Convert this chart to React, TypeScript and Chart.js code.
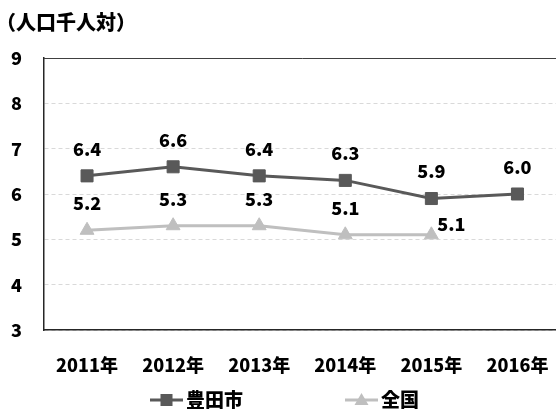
import React, { useEffect, useRef } from 'react';
import { Chart, registerables } from 'chart.js';

Chart.register(...registerables);

const categories = ['2011年', '2012年', '2013年', '2014年', '2015年', '2016年'];
const toyotaValues = [6.4, 6.6, 6.4, 6.3, 5.9, 6.0];
const nationalValues: (number | null)[] = [5.2, 5.3, 5.3, 5.1, 5.1, null];
const seriesNames = ['豊田市', '全国'];
const unitTitle = '（人口千人対）';
const yMin = 3;
const yMax = 9;
const yStep = 1;

const FONT = "'Noto Sans CJK JP', 'Noto Sans', sans-serif";
const DARK = '#595959';
const LIGHT = '#bfbfbf';

const valueLabelPlugin = {
  id: 'valueLabels',
  afterDatasetsDraw(chart: any) {
    const ctx = chart.ctx;
    ctx.save();
    ctx.font = `900 18px ${FONT}`;
    ctx.fillStyle = '#000';
    ctx.textAlign = 'center';
    ctx.textBaseline = 'middle';
    chart.data.datasets.forEach((ds: any, di: number) => {
      const meta = chart.getDatasetMeta(di);
      meta.data.forEach((pt: any, i: number) => {
        const v = ds.data[i];
        if (v == null) return;
        const pos = (ds.labelPos && ds.labelPos[i]) || 'top';
        let x = pt.x;
        let y = pt.y - 27;
        if (pos === 'right') {
          x = pt.x + 20;
          y = pt.y - 11;
        }
        ctx.fillText(Number(v).toFixed(1), x, y);
      });
    });
    ctx.restore();
  },
};

const decorPlugin = {
  id: 'decor',
  afterDraw(chart: any) {
    const ctx = chart.ctx;
    const area = chart.chartArea;
    ctx.save();
    ctx.strokeStyle = '#404040';
    ctx.lineWidth = 1;
    ctx.beginPath();
    ctx.moveTo(area.left, area.top + 0.5);
    ctx.lineTo(area.right, area.top + 0.5);
    ctx.stroke();

    ctx.fillStyle = '#000';
    ctx.font = `900 20px ${FONT}`;
    ctx.textAlign = 'left';
    ctx.textBaseline = 'middle';
    ctx.fillText(unitTitle, -4, 22);

    const legendY = 400;
    const items = [
      { x: 150, ds: chart.data.datasets[0], shape: 'rect' },
      { x: 345, ds: chart.data.datasets[1], shape: 'triangle' },
    ];
    items.forEach((it) => {
      const color = it.ds.borderColor;
      ctx.strokeStyle = color;
      ctx.lineWidth = 3;
      ctx.beginPath();
      ctx.moveTo(it.x, legendY);
      ctx.lineTo(it.x + 33, legendY);
      ctx.stroke();
      const cx = it.x + 16.5;
      ctx.fillStyle = color;
      if (it.shape === 'rect') {
        ctx.fillRect(cx - 6, legendY - 6, 12, 12);
      } else {
        ctx.beginPath();
        ctx.moveTo(cx, legendY - 7);
        ctx.lineTo(cx + 7, legendY + 5);
        ctx.lineTo(cx - 7, legendY + 5);
        ctx.closePath();
        ctx.fill();
      }
      ctx.fillStyle = '#000';
      ctx.font = `900 19px ${FONT}`;
      ctx.textAlign = 'left';
      ctx.textBaseline = 'middle';
      ctx.fillText(it.ds.label, it.x + 36, legendY);
    });
    ctx.restore();
  },
};

export default function App() {
  const canvasRef = useRef<HTMLCanvasElement | null>(null);

  useEffect(() => {
    const canvas = canvasRef.current;
    if (!canvas) return;
    const chart = new Chart(canvas, {
      type: 'line',
      data: {
        labels: categories,
        datasets: [
          {
            label: seriesNames[0],
            data: toyotaValues,
            borderColor: DARK,
            backgroundColor: DARK,
            borderWidth: 3,
            pointStyle: 'rect',
            pointRadius: 8.5,
            pointBorderWidth: 1,
            pointBackgroundColor: DARK,
            pointBorderColor: DARK,
            tension: 0,
          } as any,
          {
            label: seriesNames[1],
            data: nationalValues,
            borderColor: LIGHT,
            backgroundColor: LIGHT,
            borderWidth: 3,
            pointStyle: 'triangle',
            pointRadius: 8,
            pointBorderWidth: 1,
            pointBackgroundColor: LIGHT,
            pointBorderColor: LIGHT,
            tension: 0,
            labelPos: ['top', 'top', 'top', 'top', 'right', 'top'],
          } as any,
        ],
      },
      options: {
        responsive: false,
        animation: false,
        devicePixelRatio: 1,
        layout: { padding: { top: 58, left: 0, right: 0, bottom: 0 } },
        plugins: {
          legend: { display: false },
          title: { display: false },
          tooltip: { enabled: false },
        },
        scales: {
          x: {
            offset: true,
            grid: { display: false, drawTicks: false },
            border: { display: true, color: '#262626', width: 1.5 },
            ticks: {
              padding: 24,
              color: '#000',
              maxRotation: 0,
              font: { family: FONT, size: 18, weight: '900' },
            },
            afterFit: (scale: any) => {
              scale.height = 84;
              scale.paddingLeft = 0;
              scale.paddingRight = 0;
            },
          },
          y: {
            min: yMin,
            max: yMax,
            grid: {
              color: '#d9d9d9',
              lineWidth: 1,
              drawTicks: false,
            },
            border: { display: true, color: '#262626', width: 1.5, dash: [4, 3] },
            ticks: {
              stepSize: yStep,
              padding: 22,
              color: '#000',
              font: { family: FONT, size: 18, weight: '900' },
            },
            afterFit: (scale: any) => {
              scale.width = 44;
              scale.paddingTop = 0;
              scale.paddingBottom = 0;
            },
          },
        },
      },
      plugins: [valueLabelPlugin, decorPlugin],
    });
    return () => chart.destroy();
  }, []);

  return (
    <div style={{ position: 'fixed', left: 0, top: 0, width: 556, height: 414, overflow: 'hidden', background: '#fff' }}>
      <canvas ref={canvasRef} width={570} height={414} style={{ width: 570, height: 414, display: 'block' }} />
    </div>
  );
}
